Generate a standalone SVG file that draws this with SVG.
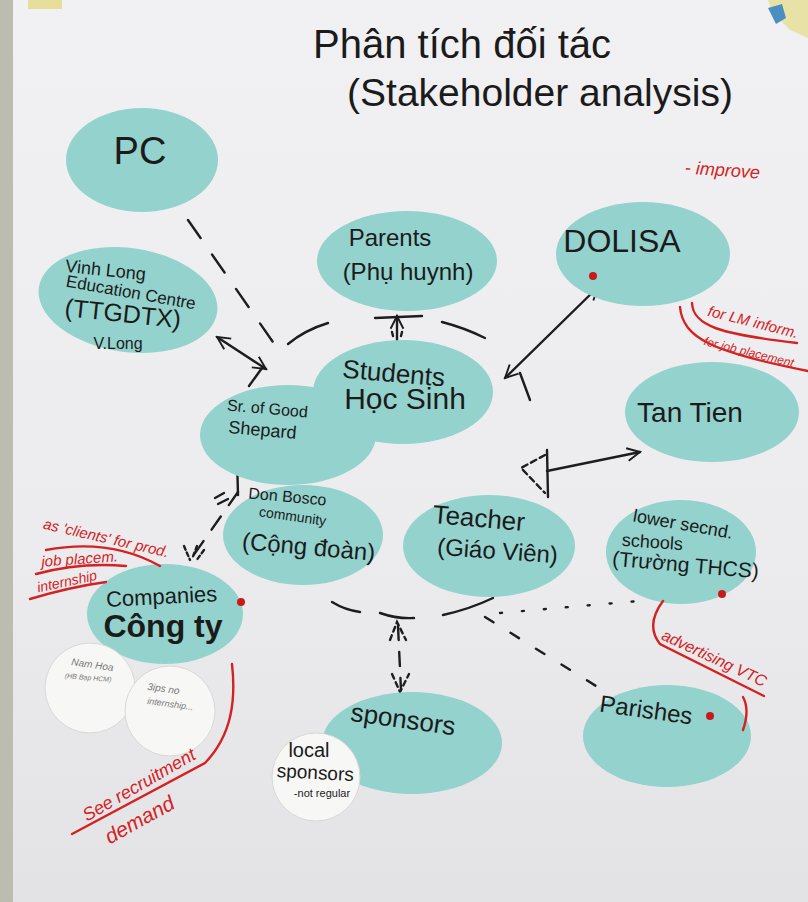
<svg xmlns="http://www.w3.org/2000/svg" width="808" height="902" viewBox="0 0 808 902">
<defs>
<linearGradient id="paper" x1="0" y1="0" x2="0" y2="1">
<stop offset="0" stop-color="#f1f1f3"/>
<stop offset="0.6" stop-color="#ececef"/>
<stop offset="1" stop-color="#e3e3e6"/>
</linearGradient>
<marker id="arr" viewBox="0 0 20 20" refX="18" refY="10" markerWidth="16" markerHeight="16" markerUnits="userSpaceOnUse" orient="auto-start-reverse">
<path d="M2,2 L18,10 L2,18" fill="none" stroke="#1d1d1d" stroke-width="2.4"/>
</marker>
<style>
.card{fill:#93d2cd;}
.disc{fill:#f7f7f5;stroke:#d8d8d8;stroke-width:1;}
.t{font-family:"Liberation Sans","DejaVu Sans",sans-serif;fill:#1b1b1b;text-anchor:middle;}
.r{font-family:"Liberation Sans","DejaVu Sans",sans-serif;fill:#d42222;text-anchor:middle;font-style:italic;}
.g{font-family:"Liberation Sans","DejaVu Sans",sans-serif;fill:#777;text-anchor:middle;font-style:italic;}
.ln{fill:none;stroke:#1d1d1d;stroke-width:2.4;stroke-linecap:round;}
.rl{fill:none;stroke:#d42222;stroke-width:2.4;stroke-linecap:round;}
.dot{fill:#c81a1a;}
</style>
</defs>
<rect width="808" height="902" fill="#bdbcb0"/>
<rect x="13" y="0" width="795" height="902" fill="url(#paper)"/>
<rect x="28" y="0" width="34" height="9" fill="#e6df9c"/>
<path d="M768,0 L808,0 L808,38 L790,30 L772,12 Z" fill="#e9e2a6"/>
<path d="M768,8 L782,4 L786,18 L776,24 Z" fill="#4a8fc0"/>

<g id="title">
<text class="t" x="462" y="58" font-size="40">Phân tích đối tác</text>
<text class="t" x="540" y="106" font-size="39">(Stakeholder analysis)</text>
</g>

<g id="connectors">
<line class="ln" x1="188" y1="220" x2="282" y2="355" stroke-dasharray="22 20"/>
<line class="ln" x1="217" y1="337" x2="266" y2="369" marker-start="url(#arr)" marker-end="url(#arr)"/>
<line class="ln" x1="262" y1="368" x2="249" y2="386"/>
<path class="ln" d="M288,344 Q305,330 328,323"/>
<path class="ln" d="M442,322 Q465,328 485,338"/>
<line class="ln" x1="375" y1="318" x2="422" y2="316"/>
<line class="ln" x1="397" y1="340" x2="397" y2="316" marker-end="url(#arr)"/>
<path class="ln" d="M392,332 l1,4 M402,332 l-1,4" stroke-width="1.4"/>
<line class="ln" x1="505" y1="378" x2="598" y2="287" marker-start="url(#arr)" marker-end="url(#arr)"/>
<line class="ln" x1="520" y1="373" x2="530" y2="400"/>
<line class="ln" x1="547" y1="471" x2="640" y2="452" marker-end="url(#arr)"/>
<line class="ln" x1="547" y1="450" x2="548" y2="497"/>
<path class="ln" d="M545,455 L521,468 L545,493" stroke-dasharray="6 4"/>
<line class="ln" x1="237" y1="458" x2="238" y2="495"/>
<line class="ln" x1="238" y1="492" x2="193" y2="556" stroke-dasharray="16 14"/>
<path class="ln" d="M184,546 L190,560 M197,546 L192,559 M204,550 L196,561" stroke-width="1.6" stroke-dasharray="4 3"/>
<path class="ln" d="M215,498 L224,493 M218,504 L228,499" stroke-width="1.6"/>
<path class="ln" d="M332,602 Q345,610 360,612"/>
<path class="ln" d="M380,613 Q397,619 414,618"/>
<path class="ln" d="M443,615 Q470,609 493,598"/>
<line class="ln" x1="398" y1="626" x2="401" y2="690" stroke-dasharray="14 12"/>
<path class="ln" d="M390,640 L397,622 L406,640" stroke-width="1.8" stroke-dasharray="5 4"/>
<path class="ln" d="M392,674 L400,692 L409,674" stroke-width="1.8" stroke-dasharray="5 4"/>
<line class="ln" x1="485" y1="617" x2="596" y2="686" stroke-dasharray="10 20"/>
<line class="ln" x1="500" y1="613" x2="650" y2="600" stroke-dasharray="2 20" stroke-width="3"/>
</g>

<g id="pc">
<ellipse class="card" cx="142" cy="160" rx="76" ry="52"/>
<text class="t" x="140" y="164" font-size="38">PC</text>
</g>

<g id="vinhlong">
<ellipse class="card" cx="128" cy="300" rx="90" ry="52" transform="rotate(8 128 300)"/>
<text class="t" x="105" y="276" font-size="18" transform="rotate(6 105 276)">Vinh Long</text>
<text class="t" x="130" y="298" font-size="17" transform="rotate(10 130 298)">Education Centre</text>
<text class="t" x="122" y="322" font-size="25" transform="rotate(6 122 322)">(TTGDTX)</text>
<text class="t" x="118" y="349" font-size="16">V.Long</text>
</g>

<g id="parents">
<ellipse class="card" cx="407" cy="261" rx="90" ry="50"/>
<text class="t" x="390" y="246" font-size="24">Parents</text>
<text class="t" x="408" y="280" font-size="24">(Phụ huynh)</text>
</g>

<g id="dolisa">
<ellipse class="card" cx="643" cy="254" rx="87" ry="52"/>
<text class="t" x="622" y="252" font-size="32">DOLISA</text>
<circle class="dot" cx="593" cy="276" r="4"/>
</g>

<g id="tantien">
<ellipse class="card" cx="712" cy="412" rx="87" ry="50"/>
<text class="t" x="690" y="422" font-size="28">Tan Tien</text>
</g>

<g id="shepard">
<ellipse class="card" cx="288" cy="435" rx="88" ry="50"/>
<text class="t" x="267" y="414" font-size="16" transform="rotate(5 267 414)">Sr. of Good</text>
<text class="t" x="262" y="436" font-size="18" transform="rotate(5 262 436)">Shepard</text>
</g>

<g id="students">
<ellipse class="card" cx="403" cy="392" rx="90" ry="52"/>
<text class="t" x="393" y="382" font-size="26" transform="rotate(5 393 382)">Students</text>
<text class="t" x="405" y="409" font-size="30">Học Sinh</text>
</g>

<g id="donbosco">
<ellipse class="card" cx="303" cy="535" rx="80" ry="50"/>
<text class="t" x="287" y="502" font-size="16" transform="rotate(5 287 502)">Don Bosco</text>
<text class="t" x="292" y="521" font-size="14" transform="rotate(8 292 521)">community</text>
<text class="t" x="308" y="555" font-size="24" transform="rotate(5 308 555)">(Cộng đoàn)</text>
</g>

<g id="teacher">
<ellipse class="card" cx="489" cy="546" rx="86" ry="51"/>
<text class="t" x="478" y="527" font-size="26" transform="rotate(5 478 527)">Teacher</text>
<text class="t" x="497" y="559" font-size="24" transform="rotate(4 497 559)">(Giáo Viên)</text>
</g>

<g id="lowersecondary">
<ellipse class="card" cx="681" cy="552" rx="75" ry="52"/>
<text class="t" x="682" y="530" font-size="18" transform="rotate(10 682 530)">lower secnd.</text>
<text class="t" x="652" y="548" font-size="18" transform="rotate(4 652 548)">schools</text>
<text class="t" x="685" y="572" font-size="21" transform="rotate(5 685 572)">(Trường THCS)</text>
<circle class="dot" cx="722" cy="594" r="4"/>
</g>

<g id="companies">
<ellipse class="card" cx="165" cy="614" rx="78" ry="50"/>
<text class="t" x="162" y="604" font-size="22" transform="rotate(-3 162 604)">Companies</text>
<text class="t" x="163" y="637" font-size="32" font-weight="bold">Công ty</text>
<circle class="dot" cx="241" cy="602" r="4"/>
</g>

<g id="sponsors">
<ellipse class="card" cx="412" cy="743" rx="90" ry="51"/>
<text class="t" x="402" y="728" font-size="26" transform="rotate(8 402 728)">sponsors</text>
</g>

<g id="parishes">
<ellipse class="card" cx="667" cy="736" rx="84" ry="51"/>
<text class="t" x="645" y="718" font-size="24" transform="rotate(8 645 718)">Parishes</text>
<circle class="dot" cx="710" cy="716" r="4"/>
</g>

<g id="namhoa">
<circle class="disc" cx="90" cy="688" r="45"/>
<text class="g" x="92" y="668" font-size="10" transform="rotate(8 92 668)">Nam Hoa</text>
<text class="g" x="88" y="680" font-size="7" transform="rotate(5 88 680)">(HB Bạp HCM)</text>
</g>

<g id="jobsnointernship">
<circle class="disc" cx="170" cy="711" r="45"/>
<text class="g" x="163" y="692" font-size="10" transform="rotate(8 163 692)">3ips no</text>
<text class="g" x="170" y="707" font-size="9" transform="rotate(8 170 707)">internship...</text>
</g>

<g id="localsponsors">
<circle class="disc" cx="316" cy="777" r="44"/>
<text class="t" x="309" y="757" font-size="20">local</text>
<text class="t" x="315" y="779" font-size="19" transform="rotate(3 315 779)">sponsors</text>
<text class="t" x="322" y="797" font-size="11">-not regular</text>
</g>

<g id="annotations">
<text class="r" x="752" y="327" font-size="15" transform="rotate(14 752 327)">for LM inform.</text>
<text class="r" x="722" y="176" font-size="18" transform="rotate(4 722 176)">- improve</text>
<text class="r" x="748" y="356" font-size="12" transform="rotate(14 748 356)">for job placement</text>
<path class="rl" d="M692,303 C693,326 720,334 797,343"/>
<path class="rl" d="M680,307 C683,338 712,352 808,371"/>
<text class="r" x="105" y="543" font-size="15" transform="rotate(13 105 543)">as 'clients' for prod.</text>
<text class="r" x="80" y="564" font-size="15" transform="rotate(-4 80 564)">job placem.</text>
<text class="r" x="68" y="586" font-size="14" transform="rotate(-12 68 586)">internship</text>
<path class="rl" d="M46,550 Q110,538 160,566"/>
<path class="rl" d="M36,574 Q80,562 126,566"/>
<path class="rl" d="M30,599 Q70,587 106,582"/>
<path class="rl" d="M232,664 C236,700 232,735 205,763 L72,834"/>
<text class="r" x="142" y="790" font-size="18" transform="rotate(-30 142 790)">See recruitment</text>
<text class="r" x="143" y="826" font-size="21" transform="rotate(-29 143 826)">demand</text>
<path class="rl" d="M663,601 Q645,625 660,644 L764,696"/>
<text class="r" x="712" y="663" font-size="16" transform="rotate(25 712 663)">advertising VTC</text>
<path class="rl" d="M743,697 Q750,710 743,730"/>
</g>
</svg>
